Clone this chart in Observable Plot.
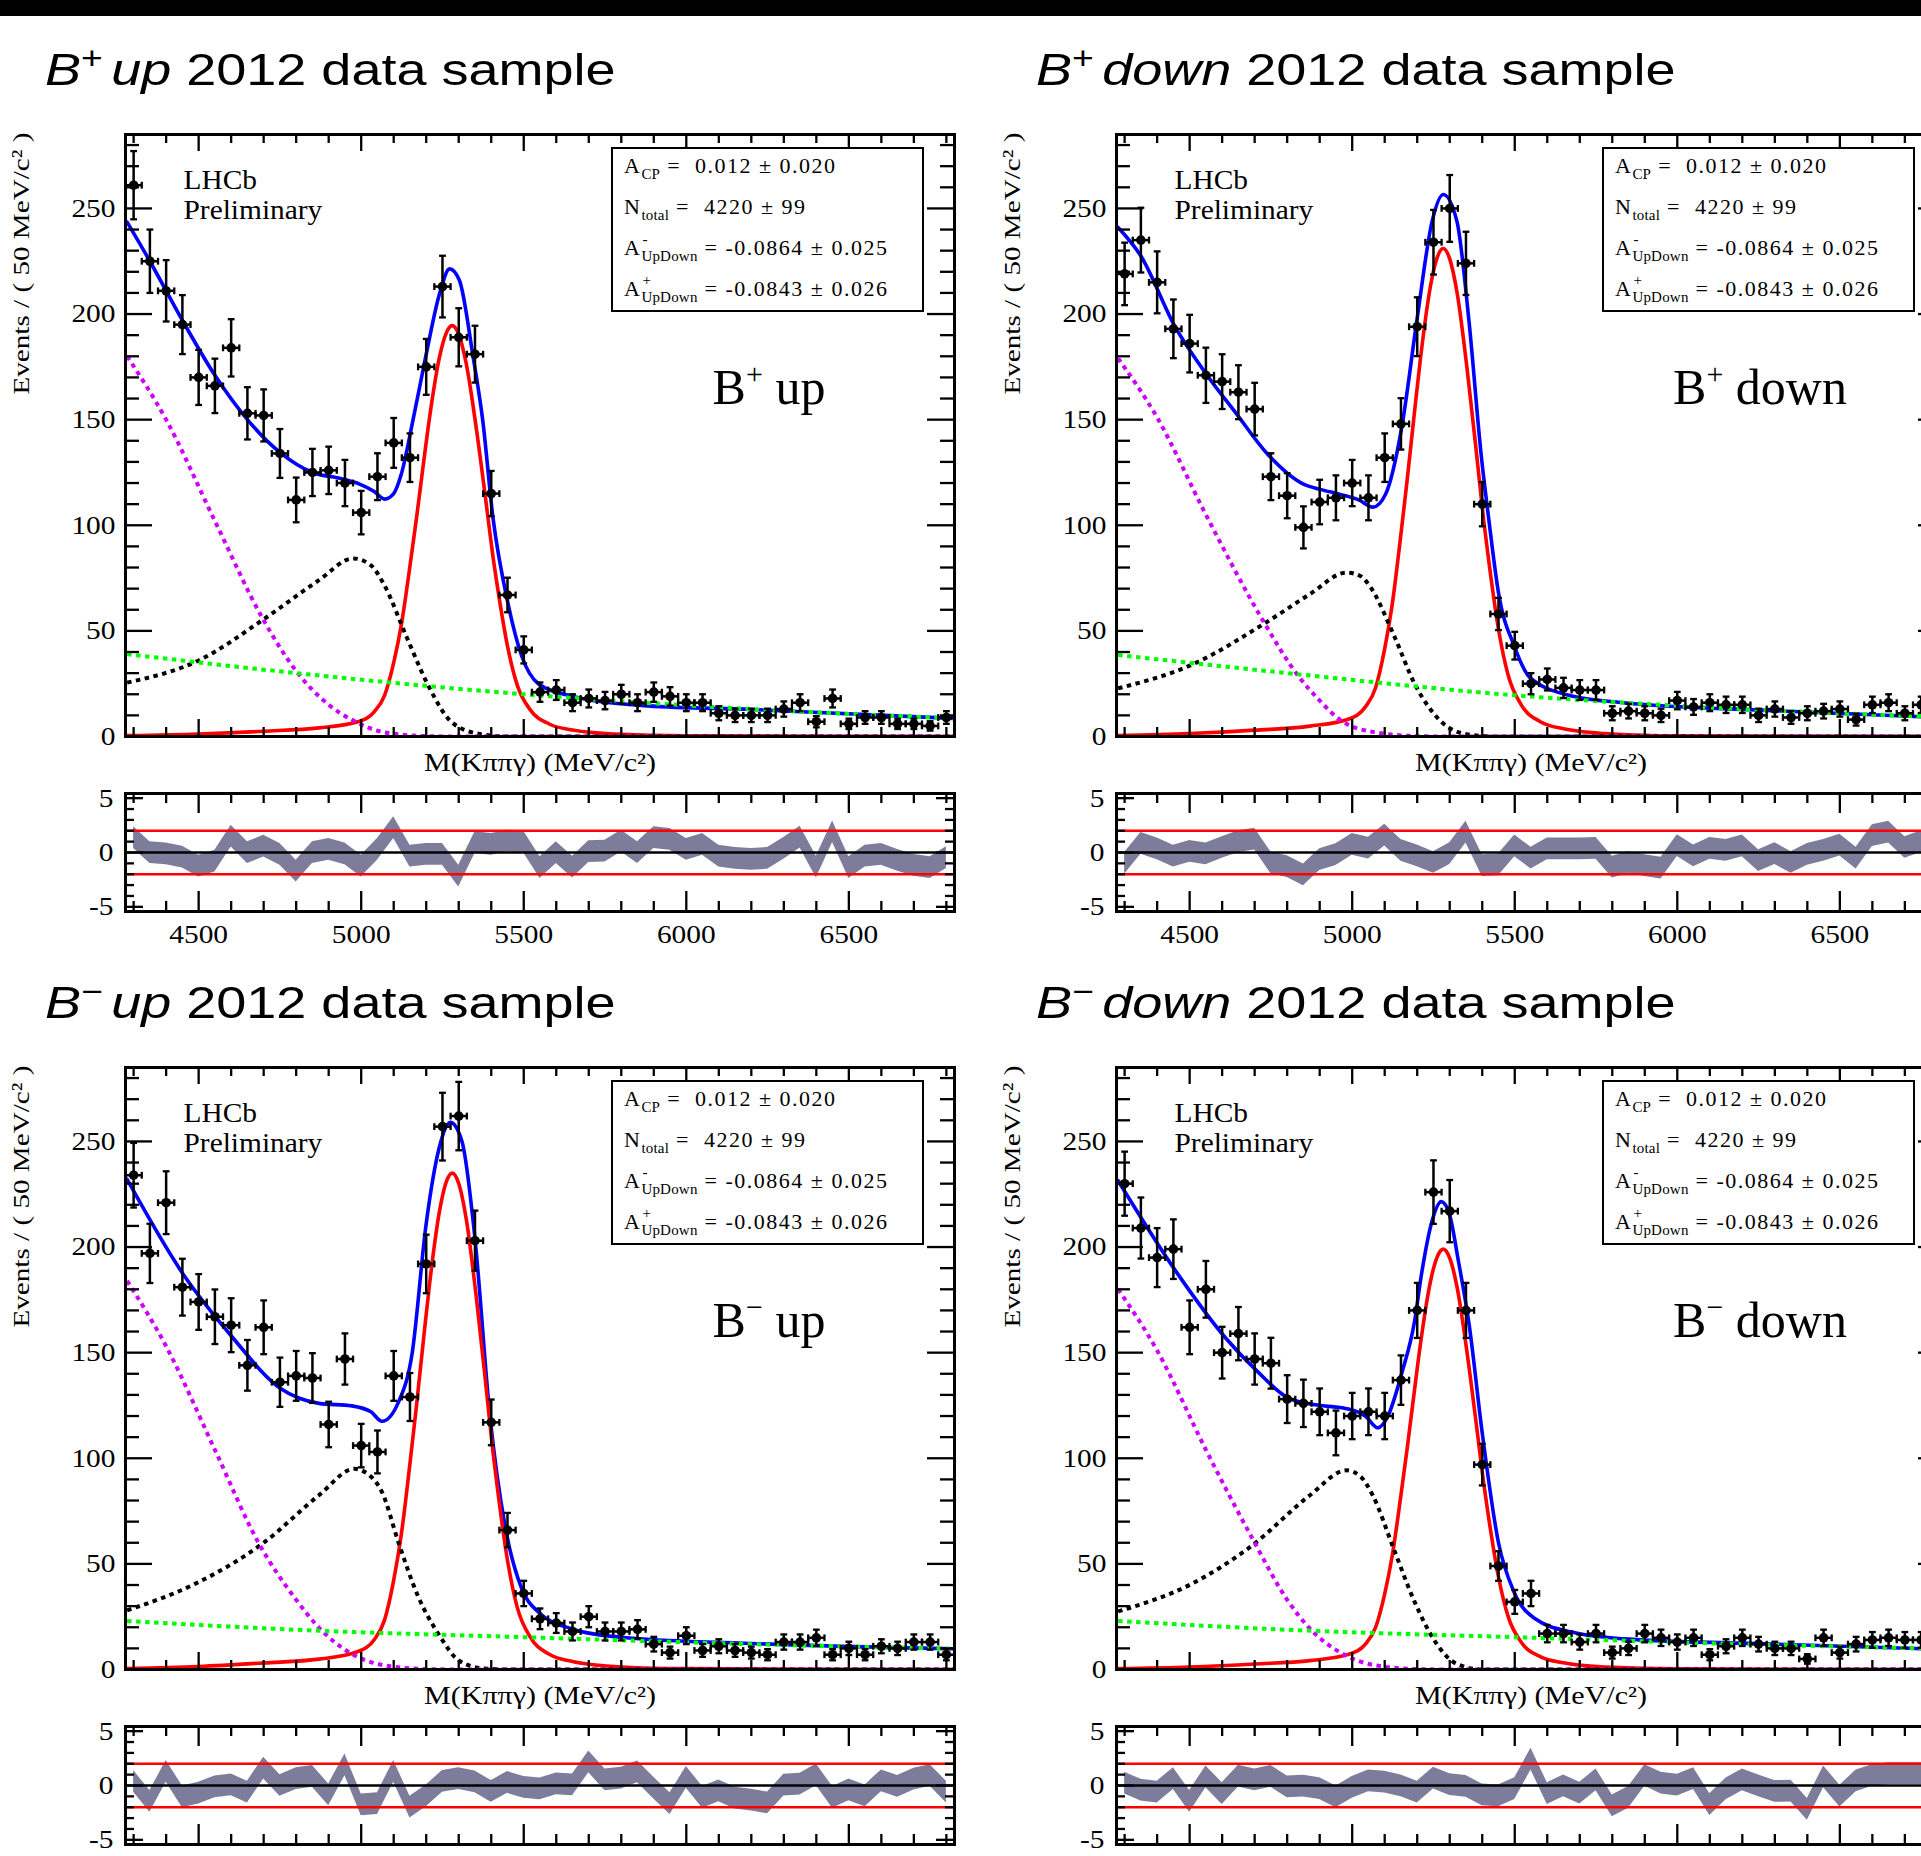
<!DOCTYPE html>
<html>
<head>
<meta charset="utf-8">
<script src="https://cdn.jsdelivr.net/npm/d3@7"></script>
<script src="https://cdn.jsdelivr.net/npm/@observablehq/plot@0.6"></script>
<style>
  html, body { margin: 0; padding: 0; background: #fff; overflow: hidden; }
  #page { position: relative; width: 1921px; height: 1856px; overflow: hidden; background: #fff; }
  #page > svg { position: absolute; }
  .topbar { position: absolute; left: 0; top: 0; width: 1921px; height: 16px; background: #000; }
  .title { position: absolute; font-family: "Liberation Sans", Arial, sans-serif; font-size: 45px; line-height: 45px; white-space: nowrap; transform-origin: 0 0; transform: scaleX(1.2); color: #000; }
  .title .sup { font-size: 31px; position: relative; top: -16px; margin-right: 7px; }
  .box { position: absolute; box-sizing: border-box; width: 313px; height: 165px; border: 2.5px solid #000; background: #fff; font-family: "Liberation Serif", "Times New Roman", serif; font-size: 22px; color: #000; }
  .row { position: absolute; left: 11px; line-height: 22px; white-space: pre; letter-spacing: 1.5px; }
  .row .sb { font-size: 15px; position: relative; top: 6px; letter-spacing: 0.2px; }
  .row .stk { position: relative; display: inline-block; }
  .row .sp { font-size: 15px; position: absolute; left: 1px; top: -9px; }
  .chan { position: absolute; width: 300px; text-align: center; font-family: "Liberation Serif", serif; font-size: 50px; line-height: 50px; white-space: nowrap; color: #000; }
  .chan .sup { font-size: 30px; position: relative; top: -20px; }
</style>
</head>
<body>
<div id="page"><div class="topbar"></div></div>
<script>
// ---------------- data ----------------
const binCenters = [4300, 4350, 4400, 4450, 4500, 4550, 4600, 4650, 4700, 4750, 4800, 4850, 4900, 4950, 5000, 5050, 5100, 5150, 5200, 5250, 5300, 5350, 5400, 5450, 5500, 5550, 5600, 5650, 5700, 5750, 5800, 5850, 5900, 5950, 6000, 6050, 6100, 6150, 6200, 6250, 6300, 6350, 6400, 6450, 6500, 6550, 6600, 6650, 6700, 6750, 6800];

const countsBplusUp = [261, 225, 211, 195, 170, 166, 184, 153, 152, 134, 112, 125, 126, 120, 106, 123, 139, 132, 175, 213, 189, 181, 115, 67, 41, 21, 22, 16, 18, 17, 20, 16, 21, 19, 16, 16, 11, 10, 10, 10, 13, 16, 7, 18, 6, 9, 9, 6, 6, 5, 9];
const countsBplusDown = [219, 235, 215, 193, 186, 171, 168, 163, 155, 123, 114, 99, 111, 113, 120, 113, 132, 148, 194, 234, 250, 224, 110, 58, 43, 25, 27, 23, 22, 22, 11, 12, 11, 10, 17, 14, 16, 15, 15, 10, 13, 9, 11, 12, 13, 8, 15, 16, 11, 15, 12];
const countsBminusUp = [234, 197, 221, 181, 174, 167, 163, 144, 162, 136, 139, 138, 116, 147, 106, 103, 139, 129, 192, 257, 262, 203, 117, 66, 36, 24, 22, 18, 25, 18, 18, 19, 12, 8, 16, 9, 11, 9, 8, 7, 13, 13, 15, 7, 10, 7, 11, 10, 13, 13, 7];
const countsBminusDown = [230, 209, 195, 199, 162, 180, 150, 159, 147, 145, 128, 126, 122, 112, 120, 122, 120, 137, 170, 226, 217, 170, 97, 49, 32, 36, 17, 17, 13, 17, 8, 10, 17, 15, 13, 15, 7, 11, 15, 12, 10, 10, 5, 15, 8, 12, 14, 15, 14, 14, 13];

const pullsBplusUp = [1.36, -0.02, -0.12, -0.42, -1.25, -0.79, 1.51, -0.02, 0.59, -0.17, -1.71, -0.02, 0.29, -0.12, -1.25, 0.29, 2.28, -0.33, -0.17, -0.17, -2.17, 0.9, 0.75, 1.05, 0.96, -1.4, -0.02, -1.34, 0.07, 0.13, 1.05, -0.02, 1.36, 1.21, 0.29, 0.75, -0.33, -0.54, -0.63, -0.54, 0.38, 1.42, -1.34, 1.91, -1.4, -0.33, -0.17, -0.72, -1.18, -1.4, -0.48];
const pullsBplusDown = [-1.0, 0.83, 0.34, -0.34, 0.1, -0.12, 0.46, 1.0, 1.23, -0.95, -1.3, -2.05, -0.65, -0.2, 0.74, 0.4, 1.6, 0.2, -0.3, -0.92, -0.1, 1.87, -1.2, -1.13, 0.61, -0.52, 0.34, 0.34, 0.34, 0.37, -1.35, -0.92, -1.2, -1.44, 0.64, -0.3, 0.37, 0.2, 0.6, -0.74, -0.1, -0.92, -0.18, 0.2, 0.67, -0.52, 1.56, 1.87, 0.46, 1.0, 0.5];
const pullsBminusUp = [0.37, -1.47, 1.29, -1.04, -0.7, -0.12, 0.06, -0.61, 1.6, 0, 0.64, 0.83, -0.86, 1.9, -1.78, -1.66, 1.29, -2.0, -0.95, 0.37, 0.64, 0.34, -0.55, 0.28, -0.18, -0.31, 0.15, 0.06, 2.18, 0.52, 0.67, 1.26, -0.25, -1.66, 0.74, -1.1, -0.49, -1.17, -1.35, -1.6, 0.03, 0.12, 0.98, -1.1, -0.4, -0.95, 0.43, -0.09, 0.58, 0.92, -0.61];
const pullsBminusDown = [0.21, -0.43, -0.61, 0.64, -1.47, 0.8, -0.74, 0.86, 0.52, 0.83, -0.12, -0.06, -0.28, -1.04, -0.18, 0.43, 0.31, -0.03, -0.61, 0.67, 0.09, -0.09, -0.86, -0.95, -0.28, 2.42, -0.74, -0.03, -0.7, 0.52, -1.87, -1.1, 0.92, 0.21, 0.03, 0.64, -1.75, -0.31, 0.52, -0.03, -0.55, -0.52, -2.2, 0.8, -0.98, 0.43, 0.92, 1.1, 1.1, 1.1, 1.0];

// signal component (red), sampled along the mass axis
const signalMass = [4280, 4500, 4700, 4870, 4990, 5040, 5072, 5100, 5123, 5150, 5169, 5190, 5210, 5241, 5260, 5280, 5300, 5323, 5354, 5384, 5405, 5420, 5450, 5480, 5520, 5580, 5650, 5800, 6000, 6820];
const signalBplusUp = [0.4, 1.2, 2.5, 4.1, 7.0, 11.7, 19.5, 35.0, 52.5, 80.7, 102.1, 127.4, 150.7, 179.7, 190.4, 194.5, 190.4, 176.6, 145.9, 110.9, 85.6, 70.0, 42.8, 24.3, 12.6, 5.8, 3.1, 1.0, 0.3, 0];
const signalBplusDown = [0.5, 1.4, 3.0, 4.9, 8.3, 13.9, 23.1, 41.6, 62.4, 95.9, 121.3, 151.3, 179.0, 213.4, 226.1, 231, 226.1, 209.7, 173.3, 131.7, 101.6, 83.2, 50.8, 28.9, 15.0, 6.9, 3.7, 1.2, 0.3, 0];
const signalBminusUp = [0.5, 1.4, 3.1, 4.9, 8.5, 14.1, 23.5, 42.3, 63.5, 97.5, 123.4, 153.9, 182.1, 217.1, 230.1, 235, 230.1, 213.4, 176.3, 134.0, 103.4, 84.6, 51.7, 29.4, 15.3, 7.1, 3.8, 1.2, 0.4, 0];
const signalBminusDown = [0.4, 1.2, 2.6, 4.2, 7.2, 11.9, 19.9, 35.8, 53.7, 82.6, 104.5, 130.3, 154.2, 183.9, 194.8, 199, 194.8, 180.7, 149.3, 113.4, 87.6, 71.6, 43.8, 24.9, 12.9, 6.0, 3.2, 1.0, 0.3, 0];

// total fit (blue), [mass, events]
const totalFitBplusUp = [[4280,243.5],[4350,225],[4450,197],[4550,171],[4650,150],[4750,134.5],[4850,125],[4940,122],[4995,119.5],[5040,116],[5072,112.4],[5100,115],[5123,124],[5159,149.5],[5200,181],[5241,209.6],[5272,221.4],[5302,216],[5343,181],[5374,149.5],[5405,104],[5452,62.7],[5494,38],[5545,25],[5646,19.2],[5882,14.5],[6200,12.8],[6820,8.6]];
const totalFitBplusDown = [[4280,241],[4350,227.5],[4455,194],[4549,172],[4643,153],[4738,134],[4850,119.5],[4902,117],[4966,114.5],[5020,112],[5064,108.6],[5103,114.8],[5152,146],[5199,197],[5246,244],[5280,256.6],[5322,244],[5359,197],[5397,133],[5420,103],[5450,68],[5498,43],[5546,28],[5675,19.2],[5836,16],[6319,12.1],[6820,8.9]];
const totalFitBminusUp = [[4280,232],[4453,187],[4600,158],[4752,133],[4870,126],[4971,124.8],[5030,122],[5064,117.5],[5115,126.7],[5157,150],[5199,210],[5240,247],[5274,259],[5310,250],[5350,204],[5396,120],[5444,66.7],[5494,38.2],[5545,27.2],[5646,19.3],[5797,15.3],[6220,12.2],[6820,9.8]];
const totalFitBminusDown = [[4280,231.4],[4460,188],[4612,156.7],[4709,141],[4806,128.3],[4902,125],[4982,123.5],[5040,120],[5079,114.4],[5110,120],[5152,140],[5192,165],[5213,187],[5245,212],[5274,221.5],[5300,215],[5326,194],[5360,163],[5400,112],[5450,60],[5498,36.6],[5563,24],[5675,17.7],[5836,14.5],[6300,12],[6820,9.5]];

// partially reconstructed background (black dotted)
const partRecoBplusUp = [[4280,25.5],[4500,36],[4700,55.5],[4870,74],[4975,84.3],[5030,81],[5070,72],[5140,47],[5210,23],[5275,7.3],[5360,1.3],[5450,0],[6820,0]];
const partRecoBplusDown = [[4280,22.8],[4507,34],[4725,53],[4870,67.4],[4982,77.6],[5025,76],[5055,71],[5128,48],[5192,25],[5272,7.3],[5355,1],[5450,0],[6820,0]];
const partRecoBminusUp = [[4280,28],[4495,41],[4700,60],[4870,82.5],[4979,95],[5025,92],[5064,84],[5115,60],[5174,35],[5241,16],[5300,4.3],[5375,0.5],[5450,0],[6820,0]];
const partRecoBminusDown = [[4280,27.5],[4507,40.6],[4693,58.8],[4870,82.5],[4982,94.3],[5025,91.5],[5063,82.5],[5128,57],[5192,32],[5256,13],[5321,2.7],[5400,0],[6820,0]];

// low-mass peaking background (magenta dotted)
const lowMassBplusUp = [[4280,180],[4400,150],[4550,102],[4700,55],[4800,31],[4900,15],[4970,8],[5070,2],[5200,0.2],[5300,0],[6820,0]];
const lowMassBplusDown = [[4280,179],[4400,151],[4550,105],[4725,55],[4830,29.5],[4900,17],[4966,7.5],[5070,2],[5200,0.2],[5300,0],[6820,0]];
const lowMassBminusUp = [[4280,184],[4400,153],[4550,104],[4684,60],[4800,33],[4869,20],[4971,7.4],[5070,2],[5200,0.2],[5300,0],[6820,0]];
const lowMassBminusDown = [[4280,180],[4400,151],[4550,104],[4693,62],[4800,33],[4870,19.3],[4970,7.5],[5070,2],[5200,0.2],[5300,0],[6820,0]];

// combinatorial background (green dotted)
const combBkgBplusUp = [[4280,39],[4800,30],[5500,20],[6200,13],[6820,8.6]];
const combBkgBplusDown = [[4280,38.6],[4800,30],[5500,19.5],[6200,13],[6820,9.2]];
const combBkgBminusUp = [[4280,23],[4800,18.8],[5500,15.3],[6200,12],[6820,9.8]];
const combBkgBminusDown = [[4280,23],[4800,18.8],[5500,15.3],[6200,12],[6820,9.8]];

// axes and labels
const massDomain = [4275, 6825];
const eventsDomain = [0, 285];
const pullDomain = [-5.43, 5.43];
const xMajorTicks = [4500, 5000, 5500, 6000, 6500];
const xMinorTicks = [4300, 4400, 4600, 4700, 4800, 4900, 5100, 5200, 5300, 5400, 5600, 5700, 5800, 5900, 6100, 6200, 6300, 6400, 6600, 6700, 6800];
const yMajorTicks = [0, 50, 100, 150, 200, 250];
const yMinorTicks = [10, 20, 30, 40, 60, 70, 80, 90, 110, 120, 130, 140, 160, 170, 180, 190, 210, 220, 230, 240, 260, 270, 280];
const pullMajorTicks = [-5, 0, 5];
const pullMinorTicks = [-4, -3, -2, -1, 1, 2, 3, 4];
const pullBands = [-2, 2];
const yTitle = "Events / ( 50 MeV/c² )";
const xTitle = "M(Kππγ) (MeV/c²)";
const lhcbLabel = "LHCb\nPreliminary";
const infoLabels = ["0.012 ± 0.020", "4220 ± 99", "-0.0864 ± 0.025", "-0.0843 ± 0.026"];
const chargeLabels = ["+", "−"];
const polarityLabels = ["up", "down"];
const sampleLabel = "2012 data sample";

// ---------------- drawing ----------------
const W = 829, FH = 602, RH = 118, ML = 125, MR = 20;
const page = document.getElementById("page");
const hcap = {draw(ctx) { ctx.moveTo(-3.4, 0); ctx.lineTo(3.4, 0); }};
const vcap = {draw(ctx) { ctx.moveTo(0, -3.4); ctx.lineTo(0, 3.4); }};
const fontStyle = {fontFamily: "'Liberation Serif', 'Times New Roman', serif", fontSize: "26px", background: "transparent", color: "black", overflow: "visible"};

function tickMarks(h, majX, minX, majY, minY, lx, sx, ly, sy) {
  const o = {stroke: "black", strokeWidth: 2.3};
  return [
    Plot.ruleX(majX, {...o, insetBottom: h - lx}), Plot.ruleX(majX, {...o, insetTop: h - lx}),
    Plot.ruleX(minX, {...o, insetBottom: h - sx}), Plot.ruleX(minX, {...o, insetTop: h - sx}),
    Plot.ruleY(majY, {...o, insetRight: W - ly}), Plot.ruleY(majY, {...o, insetLeft: W - ly}),
    Plot.ruleY(minY, {...o, insetRight: W - sy}), Plot.ruleY(minY, {...o, insetLeft: W - sy})
  ];
}

function fitLine(data, stroke, dashed) {
  return Plot.line(data, {x: d => d[0], y: d => d[1], curve: "monotone-x", stroke,
    strokeWidth: dashed ? 4 : 3.6, strokeDasharray: dashed ? "4.5,4.5" : null,
    strokeLinecap: dashed ? "butt" : "round", clip: true});
}

function mainPlot(p) {
  const pts = binCenters.map((x, i) => ({x, n: p.counts[i], e: Math.sqrt(p.counts[i])}));
  const sig = signalMass.map((x, i) => [x, p.signal[i]]);
  return Plot.plot({
    width: ML + W + MR, height: 34 + FH + 50,
    marginLeft: ML, marginRight: MR, marginTop: 34, marginBottom: 50,
    x: {domain: massDomain, axis: null},
    y: {domain: eventsDomain, axis: null},
    style: fontStyle,
    marks: [
      fitLine(p.total, "#0000ff", false),
      fitLine(sig, "#ff0000", false),
      fitLine(p.partReco, "#000000", true),
      fitLine(p.lowMass, "#cc00ff", true),
      fitLine(p.comb, "#00ff00", true),
      Plot.ruleX(pts, {x: "x", y1: d => d.n - d.e, y2: d => d.n + d.e, stroke: "black", strokeWidth: 2.5}),
      Plot.ruleY(pts, {y: "n", x1: d => d.x - 25, x2: d => d.x + 25, stroke: "black", strokeWidth: 2.5}),
      Plot.dot(pts, {x: "x", y: d => d.n + d.e, symbol: hcap, r: 3, fill: "none", stroke: "black", strokeWidth: 2.3}),
      Plot.dot(pts, {x: "x", y: d => d.n - d.e, symbol: hcap, r: 3, fill: "none", stroke: "black", strokeWidth: 2.3}),
      Plot.dot(pts, {x: d => d.x - 25, y: "n", symbol: vcap, r: 3, fill: "none", stroke: "black", strokeWidth: 2.3}),
      Plot.dot(pts, {x: d => d.x + 25, y: "n", symbol: vcap, r: 3, fill: "none", stroke: "black", strokeWidth: 2.3}),
      Plot.dot(pts, {x: "x", y: "n", r: 4.8, fill: "black", stroke: "none"}),
      ...tickMarks(FH, xMajorTicks, xMinorTicks, yMajorTicks, yMinorTicks, 17, 9, 27, 14),
      Plot.axisY(yMajorTicks, {anchor: "left", tickSize: 0, tickPadding: 10, label: null, fontSize: 26, tickFormat: d => String(d)}),
      Plot.text([lhcbLabel], {frameAnchor: "top-left", dx: 58, dy: 33, lineAnchor: "top", textAnchor: "start", fontSize: 28, lineHeight: 1.07}),
      Plot.text([yTitle], {frameAnchor: "top-left", dx: -104, dy: 129, rotate: -90, textAnchor: "middle", lineAnchor: "middle", fontSize: 24}),
      Plot.text([xTitle], {frameAnchor: "bottom", dy: 26, lineAnchor: "middle", textAnchor: "middle", fontSize: 25}),
      Plot.frame({stroke: "black", strokeWidth: 3})
    ]
  });
}

function residualPlot(p, withLabels) {
  const data = binCenters.map((x, i) => ({x, v: p.pulls[i]}));
  const marks = [
    Plot.areaY(data, {x: "x", y1: d => d.v - 1, y2: d => d.v + 1, fill: "#7d7d9b", curve: "linear"}),
    Plot.ruleY(pullBands, {stroke: "#ff0000", strokeWidth: 2.6}),
    Plot.ruleY([0], {stroke: "black", strokeWidth: 2.6}),
    ...tickMarks(RH, xMajorTicks, xMinorTicks, pullMajorTicks, pullMinorTicks, 20, 10, 18, 9),
    Plot.axisY(pullMajorTicks, {anchor: "left", tickSize: 0, tickPadding: 12, label: null, fontSize: 26, tickFormat: d => String(d)}),
    Plot.frame({stroke: "black", strokeWidth: 3})
  ];
  if (withLabels) marks.push(Plot.axisX(xMajorTicks, {anchor: "bottom", tickSize: 0, tickPadding: 13, label: null, fontSize: 26, tickFormat: d => String(d)}));
  return Plot.plot({
    width: ML + W + MR, height: 33 + RH + (withLabels ? 50 : 6),
    marginLeft: ML, marginRight: MR, marginTop: 33, marginBottom: withLabels ? 50 : 6,
    x: {domain: massDomain, axis: null},
    y: {domain: pullDomain, axis: null},
    style: fontStyle,
    marks
  });
}

function setLen(t, len) {
  t.setAttribute("textLength", len.toFixed(1));
  t.setAttribute("lengthAdjust", "spacingAndGlyphs");
}
function postProcess(svg) {
  svg.querySelectorAll('[aria-label$="tick label"] text').forEach(t => setLen(t, t.getComputedTextLength() * 1.13));
  svg.querySelectorAll("text").forEach(t => {
    const s = t.textContent;
    if (s === yTitle) setLen(t, 262);
    else if (s === xTitle) setLen(t, 232);
  });
  svg.querySelectorAll("tspan").forEach(t => {
    if (t.textContent === "LHCb" || t.textContent === "Preliminary") setLen(t, t.getComputedTextLength() * 1.05);
  });
}

function place(el, left, top) {
  el.style.left = left + "px";
  el.style.top = top + "px";
  page.appendChild(el);
  return el;
}

const panels = [
  {col: 0, row: 0, q: 0, pol: 0, counts: countsBplusUp, pulls: pullsBplusUp, signal: signalBplusUp, total: totalFitBplusUp, partReco: partRecoBplusUp, lowMass: lowMassBplusUp, comb: combBkgBplusUp},
  {col: 1, row: 0, q: 0, pol: 1, counts: countsBplusDown, pulls: pullsBplusDown, signal: signalBplusDown, total: totalFitBplusDown, partReco: partRecoBplusDown, lowMass: lowMassBplusDown, comb: combBkgBplusDown},
  {col: 0, row: 1, q: 1, pol: 0, counts: countsBminusUp, pulls: pullsBminusUp, signal: signalBminusUp, total: totalFitBminusUp, partReco: partRecoBminusUp, lowMass: lowMassBminusUp, comb: combBkgBminusUp},
  {col: 1, row: 1, q: 1, pol: 1, counts: countsBminusDown, pulls: pullsBminusDown, signal: signalBminusDown, total: totalFitBminusDown, partReco: partRecoBminusDown, lowMass: lowMassBminusDown, comb: combBkgBminusDown}
];

const DX = 991, DY = 933;
panels.forEach(p => {
  const ox = p.col * DX, oy = p.row * DY;
  const frameLeft = ox + ML, frameTop = oy + 134;

  // title
  const t = document.createElement("div");
  t.className = "title";
  t.innerHTML = `<i>B</i><span class="sup">${chargeLabels[p.q]}</span><i>${polarityLabels[p.pol]}</i> ${sampleLabel}`;
  place(t, ox + 45, oy + 47);

  const m = place(mainPlot(p), ox, oy + 100);
  postProcess(m);
  const r = place(residualPlot(p, p.row === 0), ox, oy + 760);
  postProcess(r);

  // fit-result box
  const box = document.createElement("div");
  box.className = "box";
  const tops = [5.5, 46.5, 87.5, 128.5];
  box.innerHTML =
    `<div class="row" style="top:${tops[0]}px">A<span class="sb">CP</span> =  ${infoLabels[0]}</div>` +
    `<div class="row" style="top:${tops[1]}px">N<span class="sb">total</span> =  ${infoLabels[1]}</div>` +
    `<div class="row" style="top:${tops[2]}px">A<span class="stk"><span class="sp">-</span><span class="sb">UpDown</span></span> = ${infoLabels[2]}</div>` +
    `<div class="row" style="top:${tops[3]}px">A<span class="stk"><span class="sp">+</span><span class="sb">UpDown</span></span> = ${infoLabels[3]}</div>`;
  place(box, frameLeft + 486, frameTop + 13);

  // channel label
  const c = document.createElement("div");
  c.className = "chan";
  c.innerHTML = `B<span class="sup">${chargeLabels[p.q]}</span> ${polarityLabels[p.pol]}`;
  place(c, frameLeft + 644 - 150, frameTop + 228);
});
</script>
</body>
</html>
